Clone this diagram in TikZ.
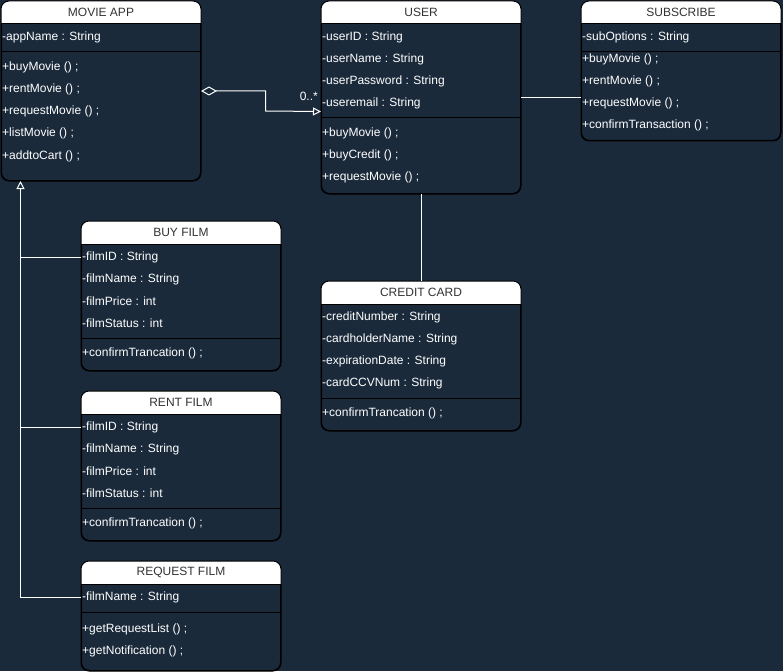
\documentclass[tikz,border=0pt]{standalone}
\usepackage{fontspec}
\setmainfont{Liberation Sans}
\usetikzlibrary{arrows.meta}
\definecolor{bg}{HTML}{1B2A3B}
\definecolor{titletext}{HTML}{333333}
\tikzset{
  classbox/.style={draw=black, fill=bg, line width=1pt, rounded corners=8pt,
    anchor=north west, inner sep=0pt},
  classline/.style={draw=black, line width=1pt},
  classtitle/.style={text=titletext, font=\fontsize{12}{14}\selectfont, inner sep=0pt},
  member/.style={text=white, font=\fontsize{12}{14}\selectfont, inner sep=0pt, anchor=west},
  link/.style={draw=white, line width=1pt},
}
% name, x, y, width, height, title
\newcommand{\umlclass}[6]{%
  \node[classbox, minimum width=#4pt, minimum height=#5pt] (#1) at (#2,#3) {};
  \fill[white] ([yshift=-23pt]#1.north west) [rounded corners=8pt] -- (#1.north west)
     -- (#1.north east) [sharp corners] -- ([yshift=-23pt]#1.north east) -- cycle;
  \draw[classline] ([yshift=-23pt]#1.north west) -- ([yshift=-23pt]#1.north east);
  \draw[classline, rounded corners=8pt] (#1.south west) rectangle (#1.north east);
  \node[classtitle] (#1-title) at ([yshift=-11.5pt]#1.north) {#6};
}
\begin{document}
\begin{tikzpicture}[x=1pt, y=-1pt]
\fill[bg] (0,0) rectangle (783,671);
\useasboundingbox (0,0) rectangle (783,671);

% MOVIE APP
\umlclass{movie}{1}{1}{199}{179}{MOVIE APP}
\draw[classline] (1,52) -- (200,52);
\node[member] (movie-a1) at (2,37) {-appName : String};
\node[member] (movie-m1) at (2,67) {+buyMovie () ;};
\node[member] (movie-m2) at (2,89) {+rentMovie () ;};
\node[member] (movie-m3) at (2,111) {+requestMovie () ;};
\node[member] (movie-m4) at (2,133) {+listMovie () ;};
\node[member] (movie-m5) at (2,156) {+addtoCart () ;};

% USER
\umlclass{user}{321}{1}{199}{192}{USER}
\draw[classline] (321,118) -- (520,118);
\node[member] (user-a1) at (322,37) {-userID : String};
\node[member] (user-a2) at (322,59) {-userName : String};
\node[member] (user-a3) at (322,81) {-userPassword : String};
\node[member] (user-a4) at (322,103) {-useremail : String};
\node[member] (user-m1) at (322,133) {+buyMovie () ;};
\node[member] (user-m2) at (322,155) {+buyCredit () ;};
\node[member] (user-m3) at (322,177) {+requestMovie () ;};

% SUBSCRIBE
\umlclass{sub}{581}{1}{199}{139}{SUBSCRIBE}
\draw[classline] (581,52) -- (780,52);
\node[member] (sub-a1) at (582,37) {-subOptions : String};
\node[member] (sub-m1) at (582,59) {+buyMovie () ;};
\node[member] (sub-m2) at (582,81) {+rentMovie () ;};
\node[member] (sub-m3) at (582,103) {+requestMovie () ;};
\node[member] (sub-m4) at (582,125) {+confirmTransaction () ;};

% BUY FILM
\umlclass{buy}{81}{221}{199}{149}{BUY FILM}
\draw[classline] (81,338) -- (280,338);
\node[member] (buy-a1) at (82,257) {-filmID : String};
\node[member] (buy-a2) at (82,279) {-filmName : String};
\node[member] (buy-a3) at (82,301) {-filmPrice : int};
\node[member] (buy-a4) at (82,323) {-filmStatus : int};
\node[member] (buy-m1) at (82,353) {+confirmTrancation () ;};

% RENT FILM
\umlclass{rent}{81}{391}{199}{149}{RENT FILM}
\draw[classline] (81,508) -- (280,508);
\node[member] (rent-a1) at (82,427) {-filmID : String};
\node[member] (rent-a2) at (82,449) {-filmName : String};
\node[member] (rent-a3) at (82,471) {-filmPrice : int};
\node[member] (rent-a4) at (82,493) {-filmStatus : int};
\node[member] (rent-m1) at (82,523) {+confirmTrancation () ;};

% REQUEST FILM
\umlclass{req}{81}{561}{199}{109}{REQUEST FILM}
\draw[classline] (81,612) -- (280,612);
\node[member] (req-a1) at (82,597) {-filmName : String};
\node[member] (req-m1) at (82,629) {+getRequestList () ;};
\node[member] (req-m2) at (82,651) {+getNotification () ;};

% CREDIT CARD
\umlclass{card}{321}{281}{199}{149}{CREDIT CARD}
\draw[classline] (321,398) -- (520,398);
\node[member] (card-a1) at (322,317) {-creditNumber : String};
\node[member] (card-a2) at (322,339) {-cardholderName : String};
\node[member] (card-a3) at (322,361) {-expirationDate : String};
\node[member] (card-a4) at (322,383) {-cardCCVNum : String};
\node[member] (card-m1) at (322,413) {+confirmTrancation () ;};

% aggregation MOVIE APP -> USER
\coordinate (aggend) at ([yshift=-14pt]user.west);
\draw[link, {Diamond[open, fill=bg, length=16pt, width=9pt]}-{Triangle[open, fill=bg, length=8pt, width=8pt]}]
  (movie.east) -| (265.5,111) -- (aggend);
\node[text=white, font=\fontsize{12}{14}\selectfont, inner sep=0pt, anchor=base east]
  (mult) at (318,101) {0..*};

% USER -- SUBSCRIBE
\draw[link] (user.east) -- (user.east -| sub.west);

% USER -- CREDIT CARD
\draw[link] (user.south) -- (card.north);

% generalisation into MOVIE APP
\coordinate (trunk) at (20.5,597);
\draw[link, -{Triangle[open, fill=bg, length=8pt, width=8pt]}]
  (req.west |- req-a1) -- (trunk) -- (trunk |- movie.south);
\draw[link] (buy.west |- buy-a1) -- (buy-a1 -| trunk);
\draw[link] (rent.west |- rent-a1) -- (rent-a1 -| trunk);
\end{tikzpicture}
\end{document}
